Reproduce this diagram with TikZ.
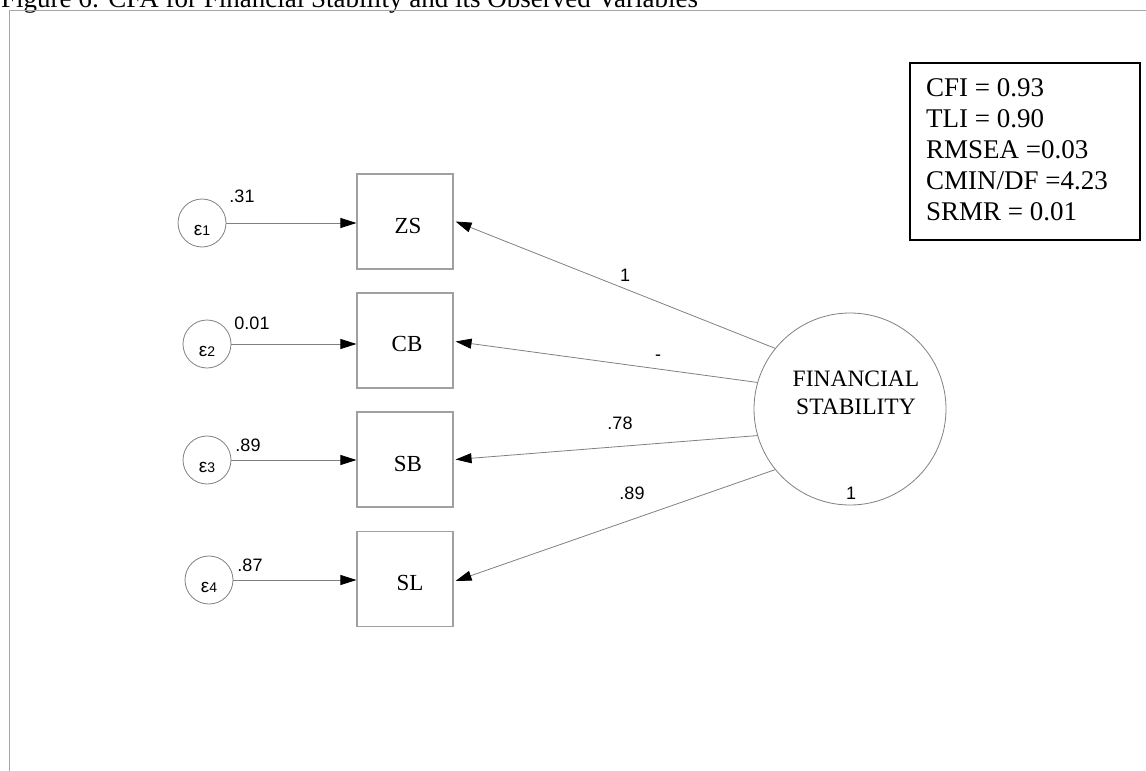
\documentclass[tikz,border=0pt]{standalone}
\usepackage{fontspec}
\setmainfont{Liberation Serif}
\newfontfamily\arialf{Liberation Sans}
\usetikzlibrary{arrows.meta}
\definecolor{framec}{HTML}{A6A6A6}
\definecolor{boxc}{HTML}{A0A0A0}
\definecolor{linec}{HTML}{808080}
\tikzset{
  obsbox/.style={draw=boxc, line width=1.1pt, minimum width=96pt, minimum height=95pt, inner sep=0pt},
  obstext/.style={inner sep=0pt, font=\fontsize{23}{26}\selectfont},
  errc/.style={circle, draw=linec, line width=0.8pt, minimum size=48pt, inner sep=0pt},
  epstext/.style={inner sep=0pt, font=\arialf\fontsize{19}{20}\selectfont},
  latc/.style={circle, draw=linec, line width=0.8pt, minimum size=192pt, inner sep=0pt},
  conn/.style={draw=linec, line width=0.8pt, -{Triangle[length=16pt,width=10pt,color=black]}},
  numlab/.style={font=\arialf\fontsize{18}{20}\selectfont, inner sep=0pt},
  fitline/.style={anchor=base west, inner sep=0pt, font=\fontsize{27}{31}\selectfont},
}
\newcommand{\epslab}[1]{ε{\fontsize{14}{16}\selectfont #1}}
\begin{document}
\begin{tikzpicture}[x=1pt, y=-1pt]
\useasboundingbox (0,0) rectangle (1146,771);
% title (cropped at top)
\node[anchor=base west, inner sep=0pt, font=\fontsize{27}{31}\selectfont] (title) at (1,7.5) {Figure 6: CFA for Financial Stability and its Observed Variables};
% frame
\draw[framec, line width=1.6pt] (9.5,771) -- (9.5,10.5) -- (1146,10.5);
% observed variables
\node[obsbox] (zs) at (405,221.5) {};
\node[obsbox] (cb) at (405,340.5) {};
\node[obsbox] (sb) at (405,459.5) {};
\node[obsbox] (sl) at (405,579) {};
\node[obstext] (zst) at ([xshift=3pt,yshift=-4pt]zs.center) {ZS};
\node[obstext] (cbt) at ([xshift=2pt,yshift=-3pt]cb.center) {CB};
\node[obstext] (sbt) at ([xshift=3pt,yshift=-4pt]sb.center) {SB};
\node[obstext] (slt) at ([xshift=5pt,yshift=-4pt]sl.center) {SL};
% error terms
\node[errc] (e1) at (202,223) {};
\node[errc] (e2) at (207,344) {};
\node[errc] (e3) at (207,460) {};
\node[errc] (e4) at (209,580) {};
\node[epstext] (e1t) at ([yshift=-7pt]e1.center) {\epslab{1}};
\node[epstext] (e2t) at ([yshift=-7pt]e2.center) {\epslab{2}};
\node[epstext] (e3t) at ([yshift=-7pt]e3.center) {\epslab{3}};
\node[epstext] (e4t) at ([yshift=-7pt]e4.center) {\epslab{4}};
% latent
\node[latc] (fs) at (850,409) {};
\node[align=center, inner sep=0pt, font=\fontsize{23.5}{28}\selectfont] (fstext) at (856,393) {FINANCIAL\\STABILITY};
\node[numlab] (fsvar) at (851,493) {1};
% error arrows
\draw[conn] (e1.east) -- (zs.west |- e1.east);
\draw[conn] (e2.east) -- (cb.west |- e2.east);
\draw[conn] (e3.east) -- (sb.west |- e3.east);
\draw[conn] (e4.east) -- (sl.west |- e4.east);
\node[numlab] (v1) at (242,196) {.31};
\node[numlab] (v2) at (252,323) {0.01};
\node[numlab] (v3) at (248,445) {.89};
\node[numlab] (v4) at (250,565) {.87};
% loadings
\draw[conn] (fs.141) -- ([xshift=2pt]zs.east);
\draw[conn] (fs.164) -- ([xshift=2pt,yshift=-1pt]cb.east);
\draw[conn] (fs.196) -- ([xshift=2pt]sb.east);
\draw[conn] (fs.219) -- ([xshift=2pt,yshift=-2pt]sl.east);
\node[numlab] (l1) at (625,275) {1};
\node[numlab] (l2) at (658,358) {-};
\node[numlab] (l3) at (620,423) {.78};
\node[numlab] (l4) at (632,493) {.89};
% fit indices
\node[draw=black, line width=1.6pt, minimum width=230pt, minimum height=177pt, inner sep=0pt] (fitbox) at (1025,151.4) {};
\node[fitline] (f1) at (926,96) {CFI = 0.93};
\node[fitline] (f2) at (926,127) {TLI = 0.90};
\node[fitline] (f3) at (926,158) {RMSEA =0.03};
\node[fitline] (f4) at (926,189) {CMIN/DF =4.23};
\node[fitline] (f5) at (926,220) {SRMR = 0.01};
\end{tikzpicture}
\end{document}
